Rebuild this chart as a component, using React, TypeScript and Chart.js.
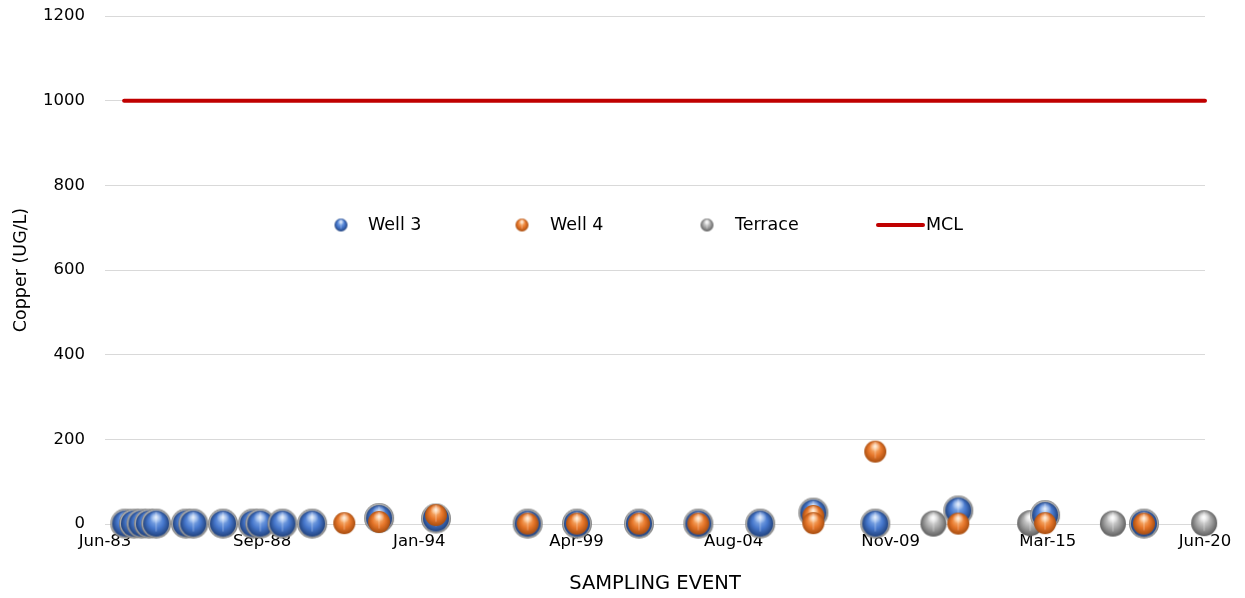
import { useEffect, useRef } from 'react';
import { Chart, registerables } from 'chart.js';

Chart.register(...registerables);

// ---------- data ----------
const xTickLabels = ['Jun-83', 'Sep-88', 'Jan-94', 'Apr-99', 'Aug-04', 'Nov-09', 'Mar-15', 'Jun-20'];
const axisStartDate = '1983-06-11';
const axisStepDays = 1932;
const yMin = 0;
const yMax = 1200;
const yStep = 200;

const well3Dates = [
  '1984-02-15', '1984-06-01', '1984-09-01', '1984-12-01', '1985-03-01', '1986-03-01',
  '1986-06-01', '1987-06-01', '1988-06-01', '1988-09-01', '1989-06-01', '1990-06-01',
  '1992-09-01', '1994-08-01', '1997-09-01', '1999-05-01', '2001-06-01', '2003-06-01',
  '2005-07-01', '2007-04-15', '2009-05-15', '2012-03-01', '2015-02-01', '2018-06-01',
];
const well3Values = [1, 1, 1, 1, 1, 1, 1, 1, 1, 1, 1, 1, 14, 13, 1, 1, 1, 1, 1, 27, 1, 32, 21, 1];

const well4Dates = [
  '1991-07-01', '1992-09-01', '1994-08-01', '1997-09-01', '1999-05-01', '2001-06-01',
  '2003-06-01', '2007-04-15', '2007-04-15', '2009-05-15', '2012-03-01', '2015-02-01', '2018-06-01',
];
const well4Values = [2, 5, 21, 1, 1, 1, 1, 19, 2, 171, 1, 2, 1];

const terraceDates = ['2011-05-01', '2014-08-01', '2017-05-15', '2020-06-10'];
const terraceValues = [1, 2, 1, 2];

const mclDates = ['1984-02-01', '2020-06-20'];
const mclValues = [1000, 1000];

const legendLabels = ['Well 3', 'Well 4', 'Terrace', 'MCL'];

// ---------- helpers ----------
const toDays = (s: string) =>
  Date.UTC(+s.slice(0, 4), +s.slice(5, 7) - 1, +s.slice(8, 10)) / 86400000;

const pts = (dates: string[], values: number[]) =>
  dates.map((d, i) => ({ x: toDays(d), y: values[i] }));

const FONT = "'DejaVu Sans', 'Liberation Sans', sans-serif";

function makeSphere(r: number, ring: number, base: string, light: string, dark: string) {
  const size = Math.ceil(2 * (r + ring) + 2);
  const c = document.createElement('canvas');
  c.width = size;
  c.height = size;
  const g = c.getContext('2d') as CanvasRenderingContext2D;
  const cx = size / 2;
  const cy = size / 2;
  if (ring > 0) {
    const rg = g.createRadialGradient(cx - r * 0.1, cy - r * 0.3, r * 0.4, cx, cy, r + ring);
    rg.addColorStop(0, '#d8d8d8');
    rg.addColorStop(0.85, '#a8a8a8');
    rg.addColorStop(1, 'rgba(110,110,110,0.9)');
    g.fillStyle = rg;
    g.beginPath();
    g.arc(cx, cy, r + ring, 0, Math.PI * 2);
    g.fill();
  }
  const gr = g.createRadialGradient(cx - r * 0.05, cy - r * 0.45, r * 0.05, cx, cy, r * 1.05);
  gr.addColorStop(0, light);
  gr.addColorStop(0.55, base);
  gr.addColorStop(1, dark);
  g.fillStyle = gr;
  g.beginPath();
  g.arc(cx, cy, r, 0, Math.PI * 2);
  g.fill();
  const hl = g.createRadialGradient(cx, cy - r * 0.5, 0, cx, cy - r * 0.5, r * 0.5);
  hl.addColorStop(0, 'rgba(255,255,255,0.7)');
  hl.addColorStop(1, 'rgba(255,255,255,0)');
  g.fillStyle = hl;
  g.beginPath();
  g.arc(cx, cy, r, 0, Math.PI * 2);
  g.fill();
  const vl = g.createLinearGradient(cx - r * 0.12, 0, cx + r * 0.12, 0);
  vl.addColorStop(0, 'rgba(255,255,255,0)');
  vl.addColorStop(0.5, 'rgba(255,255,255,0.25)');
  vl.addColorStop(1, 'rgba(255,255,255,0)');
  g.fillStyle = vl;
  g.fillRect(cx - r * 0.12, cy - r * 0.9, r * 0.24, r * 1.5);
  return c;
}

export default function App() {
  const ref = useRef<HTMLCanvasElement | null>(null);

  useEffect(() => {
    if (!ref.current) return;
    const blue = makeSphere(13, 2, '#4677cc', '#9cc0f2', '#1f3f78');
    const orange = makeSphere(11, 0, '#e6762a', '#ffc488', '#a24a0e');
    const gray = makeSphere(13, 0, '#a2a2a2', '#f2f2f2', '#5a5a5a');
    const blueSmall = makeSphere(6.5, 0, '#4677cc', '#9cc0f2', '#1f3f78');
    const orangeSmall = makeSphere(6.5, 0, '#e6762a', '#ffc488', '#a24a0e');
    const graySmall = makeSphere(6.5, 0, '#a2a2a2', '#f2f2f2', '#5a5a5a');

    const xMin = toDays(axisStartDate);
    const xMax = xMin + axisStepDays * (xTickLabels.length - 1);

    const legendPlugin = {
      id: 'insideLegend',
      afterDraw(chart: any) {
        const { ctx, chartArea } = chart;
        const y = chartArea.top + 209;
        const L = chartArea.left;
        ctx.save();
        ctx.font = `17.5px ${FONT}`;
        ctx.fillStyle = '#000';
        ctx.textBaseline = 'middle';
        ctx.textAlign = 'left';
        const icons = [blueSmall, orangeSmall, graySmall];
        const iconX = [236, 417, 602];
        const textX = [263, 445, 630];
        icons.forEach((ic, i) => {
          ctx.drawImage(ic, L + iconX[i] - ic.width / 2, y - ic.height / 2);
          ctx.fillText(legendLabels[i], L + textX[i], y);
        });
        ctx.strokeStyle = '#c00000';
        ctx.lineWidth = 4;
        ctx.lineCap = 'round';
        ctx.beginPath();
        ctx.moveTo(L + 773, y);
        ctx.lineTo(L + 818, y);
        ctx.stroke();
        ctx.fillText(legendLabels[3], L + 821, y);
        ctx.restore();
      },
    };

    const chart = new Chart(ref.current, {
      type: 'scatter',
      data: {
        datasets: [
          {
            type: 'line',
            label: legendLabels[3],
            data: pts(mclDates, mclValues),
            borderColor: '#c00000',
            borderWidth: 4,
            borderCapStyle: 'round',
            pointRadius: 0,
            showLine: true,
            clip: false,
            order: 0,
          } as any,
          {
            label: legendLabels[1],
            data: pts(well4Dates, well4Values),
            pointStyle: orange,
            pointRadius: 11,
            clip: false,
            order: 1,
          } as any,
          {
            label: legendLabels[0],
            data: pts(well3Dates, well3Values),
            pointStyle: blue,
            pointRadius: 13,
            clip: false,
            order: 2,
          } as any,
          {
            label: legendLabels[2],
            data: pts(terraceDates, terraceValues),
            pointStyle: gray,
            pointRadius: 13,
            clip: false,
            order: 3,
          } as any,
        ],
      },
      options: {
        animation: false,
        responsive: false,
        layout: { autoPadding: false, padding: { left: 0, right: 32, top: 8, bottom: 0 } },
        plugins: { legend: { display: false }, tooltip: { enabled: false } },
        scales: {
          x: {
            type: 'linear',
            min: xMin,
            max: xMax,
            grid: { display: false, drawTicks: false },
            border: { display: false },
            afterBuildTicks: (scale: any) => {
              scale.ticks = xTickLabels.map((_, i) => ({ value: xMin + i * axisStepDays }));
            },
            afterFit: (scale: any) => {
              scale.height = 66;
              scale.paddingLeft = 0;
              scale.paddingRight = 0;
            },
            ticks: {
              autoSkip: false,
              maxRotation: 0,
              padding: 8,
              color: '#000',
              font: { family: FONT, size: 16.5 },
              callback: (_v: any, i: number) => xTickLabels[i],
            },
            title: {
              display: true,
              text: 'SAMPLING EVENT',
              color: '#000',
              font: { family: FONT, size: 19.5, lineHeight: 1 },
              padding: { top: 0, bottom: -4 },
            },
          },
          y: {
            min: yMin,
            max: yMax,
            grid: { color: '#d9d9d9', lineWidth: 1, drawTicks: false },
            border: { display: false },
            afterFit: (scale: any) => {
              scale.width = 97;
              scale.paddingTop = 0;
              scale.paddingBottom = 0;
            },
            ticks: {
              stepSize: yStep,
              padding: 20,
              color: '#000',
              font: { family: FONT, size: 16.5, lineHeight: 1 },
              callback: (v: any) => String(v),
            },
            title: {
              display: true,
              text: 'Copper (UG/L)',
              color: '#000',
              font: { family: FONT, size: 17.5, lineHeight: 1.2 },
              padding: { top: 3, bottom: 0 },
            },
          },
        },
      },
      plugins: [legendPlugin],
    } as any);

    return () => chart.destroy();
  }, []);

  return (
    <div style={{ width: 1229, height: 582 }}>
      <canvas ref={ref} width={1229} height={582} style={{ display: 'block' }} />
    </div>
  );
}
